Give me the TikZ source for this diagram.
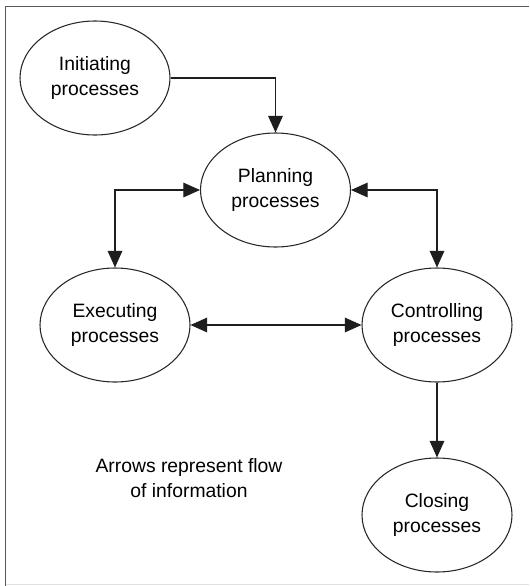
\documentclass[tikz,border=0pt]{standalone}
\usepackage{fontspec}
\setmainfont{Liberation Sans}
\usetikzlibrary{shapes.geometric,arrows.meta}

\tikzset{every picture/.style={line width=0.75pt}}
\tikzset{
  procbox/.style={ellipse, draw={rgb, 255:red, 40; green, 40; blue, 40}, line width=0.8pt,
    minimum width=112.5pt, minimum height=85.5pt, inner sep=0pt,
    align=center, font=\fontsize{14.5}{19}\selectfont},
  flow/.style={draw={rgb, 255:red, 30; green, 30; blue, 30}, line width=0.9pt,
    -{Triangle[length=12.5pt,width=11pt]}},
  bothflow/.style={flow, {Triangle[length=12.5pt,width=11pt]}-{Triangle[length=12.5pt,width=11pt]}}
}

\begin{document}
\begin{tikzpicture}[x=0.75pt,y=0.75pt,yscale=-1,xscale=1]
\useasboundingbox (0,0) rectangle (529,586);

%Frame
\draw [draw={rgb, 255:red, 90; green, 90; blue, 90}, line width=1.4pt] (529,6.5) -- (5.5,6.5) -- (5.5,586) ;
\draw [draw={rgb, 255:red, 225; green, 225; blue, 225}, line width=0.8pt] (6,584.5) -- (529,584.5) ;

%Process groups
\node [procbox] (init) at (95,78) {Initiating\\processes};
\node [procbox] (plan) at (275.5,190) {Planning\\processes};
\node [procbox] (exec) at (115,325) {Executing\\processes};
\node [procbox] (ctrl) at (437,325) {Controlling\\processes};
\node [procbox] (close) at (437,515) {Closing\\processes};

%Information flow
\draw [flow] (init.east) -| (plan.north) ;
\draw [bothflow] (plan.west) -| (exec.north) ;
\draw [bothflow] (plan.east) -| (ctrl.north) ;
\draw [bothflow] (exec.east) -- (ctrl.west) ;
\draw [flow] (ctrl.south) -- (close.north) ;

% Text Node
\node [align=center, font=\fontsize{14.5}{19}\selectfont] (note) at (189,478) {Arrows represent flow\\of information};

\end{tikzpicture}
\end{document}
